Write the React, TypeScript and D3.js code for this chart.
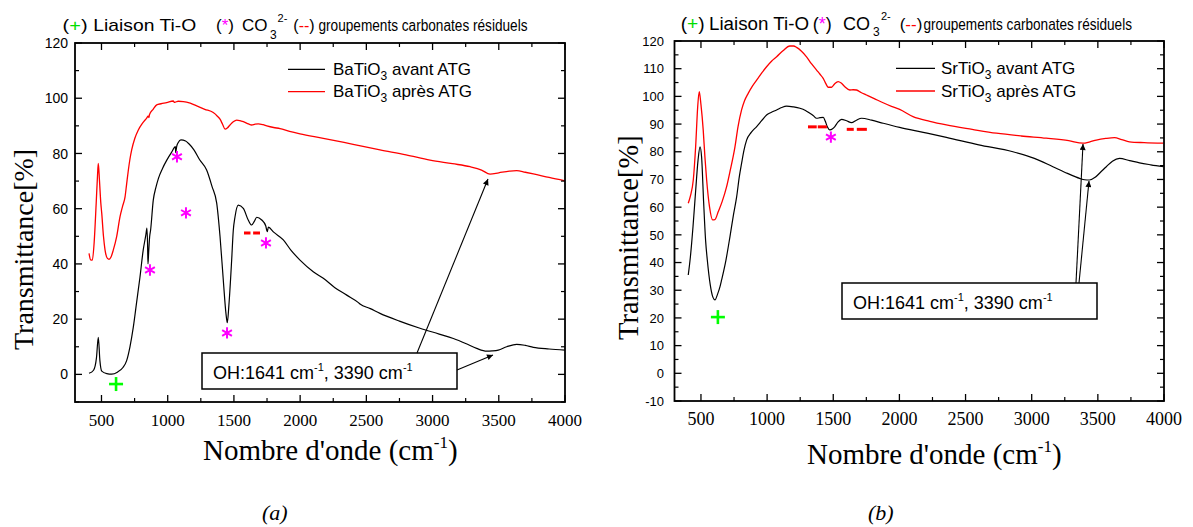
import React from "react";
import * as d3 from "d3";

// ---------------- DATA ----------------
// (a) BaTiO3 spectra: [wavenumber cm-1, transmittance %]
const baTiO3Avant: [number, number][] = [
  [406, 0.4], [440, 1.5], [462, 6], [476, 13.4], [488, 5], [502, 1.2], [540, 0.3], [577, 0.1],
  [620, 0.8], [662, 2.5], [690, 5], [715, 10], [740, 17], [765, 26], [790, 35], [815, 45],
  [835, 50.5], [843, 53], [848, 47], [851, 40], [856, 44], [864, 50], [871, 52.3], [891, 63.1],
  [910, 67.5], [930, 71], [960, 74.5], [992, 77.5], [1030, 80.5], [1058, 82.5], [1060, 80.3],
  [1068, 82.6], [1080, 84], [1100, 84.9], [1135, 84.5], [1160, 83.5], [1198, 81.3], [1240, 77.8],
  [1294, 74], [1335, 68], [1370, 62], [1395, 50], [1420, 34], [1440, 22], [1450, 18.7],
  [1462, 25], [1483, 41.4], [1495, 52], [1508, 57], [1533, 61.3], [1571, 60.1], [1608, 55.9],
  [1634, 54.1], [1655, 55.5], [1672, 56.9], [1710, 55.9], [1740, 53.8], [1748, 52.2], [1752, 51.7],
  [1760, 53.3], [1800, 51.5], [1873, 48.7], [1930, 45], [1999, 41.4], [2099, 37.2], [2175, 34.8],
  [2260, 31.5], [2352, 28.7], [2440, 26], [2452, 25.5], [2530, 23.8], [2603, 22.1], [2750, 19.3],
  [2905, 16.7], [3050, 14.6], [3157, 13], [3250, 11.2], [3333, 9.4], [3409, 8.4], [3450, 8.5],
  [3496, 8.8], [3560, 10], [3635, 10.9], [3700, 10.5], [3761, 9.8], [3880, 9.2], [4000, 8.8],
];
const baTiO3Apres: [number, number][] = [
  [406, 43.8], [418, 41.5], [431, 41.4], [445, 48], [460, 62], [470, 72], [476, 76.4], [485, 70],
  [495, 62], [502, 58.3], [515, 50], [527, 45], [545, 42], [557, 41.7], [572, 42.5], [589, 45],
  [615, 50], [640, 57.1], [660, 61], [678, 64.3], [690, 69], [703, 74], [715, 78], [728, 81.3],
  [752, 85.5], [778, 88.5], [810, 91], [841, 92.8], [852, 93.5], [858, 93], [862, 94], [890, 96],
  [917, 97.6], [950, 98], [992, 98.4], [1042, 99], [1050, 98.5], [1058, 98.6], [1080, 98.9],
  [1118, 98.8], [1170, 98.2], [1219, 97.2], [1280, 96], [1344, 94.8], [1375, 93.5], [1395, 92.4],
  [1415, 90.5], [1433, 88.8], [1450, 89.2], [1470, 90.3], [1495, 91.5], [1521, 92.1], [1545, 91.9],
  [1571, 91.5], [1610, 90.7], [1634, 90.3], [1660, 90.6], [1684, 90.7], [1720, 90.4], [1748, 90],
  [1800, 89.4], [1848, 89], [1920, 88], [1999, 87.1], [2175, 85.5], [2400, 83.3], [2603, 81.3],
  [2800, 79.5], [2981, 77.6], [3150, 76.3], [3283, 75.2], [3370, 74], [3434, 72.5], [3500, 73],
  [3580, 73.6], [3635, 73.8], [3700, 73.2], [3761, 72.6], [3880, 71.3], [4000, 70.1],
];

// (b) SrTiO3 spectra
const srTiO3Avant: [number, number][] = [
  [404, 35.5], [420, 42], [440, 53], [460, 66], [478, 77], [493, 81.8], [505, 78], [520, 62],
  [535, 48], [548, 40.9], [570, 32], [590, 27.5], [606, 26.5], [625, 28.5], [645, 31.5],
  [656, 33.7], [689, 40.9], [719, 49.3], [745, 57], [770, 63.8], [790, 71], [807, 75.8],
  [825, 80.5], [845, 84.2], [880, 87], [921, 89.1], [960, 91.3], [996, 93.3], [1030, 94.2],
  [1072, 95.1], [1110, 96], [1147, 96.5], [1200, 96.2], [1248, 95.7], [1290, 94.9], [1323, 93.9],
  [1350, 93], [1374, 92.1], [1400, 92.3], [1424, 92.4], [1440, 91], [1455, 89], [1474, 87.9],
  [1495, 88.3], [1512, 89.1], [1535, 90.7], [1563, 91.7], [1600, 91.2], [1638, 90.5], [1675, 91.4],
  [1714, 92.1], [1790, 91.4], [1877, 90.3], [2002, 88.8], [2180, 87], [2355, 85.2], [2600, 82.5],
  [2858, 80], [3020, 77.6], [3160, 74.6], [3270, 72.2], [3362, 70.4], [3400, 69.9], [3437, 69.8],
  [3480, 70.8], [3520, 72.6], [3564, 74.6], [3610, 76.6], [3664, 77.6], [3740, 76.8], [3815, 76],
  [3900, 75.3], [3996, 74.6],
];
const srTiO3Apres: [number, number][] = [
  [404, 61.4], [420, 64], [442, 69.8], [460, 82], [475, 96], [487, 101.7], [500, 97], [517, 87.9],
  [530, 78], [543, 69.8], [565, 60], [588, 55.4], [605, 55.5], [631, 58.4], [660, 62], [694, 67.4],
  [720, 73], [757, 81.8], [780, 89], [807, 95.1], [830, 98.5], [857, 101.1], [890, 103.8],
  [921, 105.9], [960, 108.5], [996, 110.7], [1035, 112.8], [1072, 114.3], [1120, 116.5],
  [1172, 118.2], [1200, 118.2], [1223, 117.7], [1260, 116.3], [1298, 114.3], [1335, 111.8],
  [1374, 109.5], [1400, 108], [1424, 106.5], [1445, 104.5], [1461, 103.3], [1487, 103.3],
  [1510, 104.5], [1537, 105.3], [1560, 104.8], [1587, 103.5], [1625, 102.3], [1650, 102.4],
  [1676, 102.3], [1710, 101.4], [1751, 100.5], [1810, 99.2], [1877, 97.7], [1940, 96.4],
  [2002, 95.3], [2103, 92.7], [2230, 91], [2355, 89.7], [2550, 88.1], [2733, 86.7], [2920, 85.7],
  [3110, 84.9], [3280, 84], [3387, 83.1], [3440, 83.6], [3488, 84.2], [3560, 84.8], [3626, 85.1],
  [3680, 84.4], [3739, 83.6], [3850, 83.3], [3996, 83.1],
];

// Annotation marks (data coordinates)
const baPlus: [number, number][] = [[610, -3.5]];
const baStars: [number, number][] = [[1070, 78.8], [1138, 58.5], [866, 37.8], [1742, 47.6], [1448, 15]];
const baDashes: [number, number, number][] = [[1576, 1625, 51.2], [1645, 1697, 51.2]];
const srPlus: [number, number][] = [[628, 20.3]];
const srStars: [number, number][] = [[1482, 85.3]];
const srDashes: [number, number, number][] = [
  [1309, 1375, 89], [1383, 1452, 89], [1602, 1655, 88.1], [1678, 1754, 88.1],
];

// Tick values
const xMajorTicks = [500, 1000, 1500, 2000, 2500, 3000, 3500, 4000];
const xMinorTicks = [750, 1250, 1750, 2250, 2750, 3250, 3750];
const baYMajor = [0, 20, 40, 60, 80, 100, 120];
const baYMinor = [-10, 10, 30, 50, 70, 90, 110];
const srYMajor = [-10, 0, 10, 20, 30, 40, 50, 60, 70, 80, 90, 100, 110, 120];
const srYMinor = [-5, 5, 15, 25, 35, 45, 55, 65, 75, 85, 95, 105, 115];

const legendA = ["BaTiO", "avant ATG", "après ATG"];
const legendB = ["SrTiO", "avant ATG", "après ATG"];

// ---------------- RENDER ----------------
const SANS = "'Liberation Sans', Arial, Helvetica, sans-serif";
const NARROW = "'Liberation Sans Narrow', 'Arial Narrow', 'Liberation Sans', sans-serif";
const SERIF = "'Liberation Serif', 'Times New Roman', Times, serif";

type PanelProps = {
  x0: number; x1: number; yTop: number; yBot: number;
  yMajor: number[]; yMinor: number[];
  black: [number, number][]; red: [number, number][];
  plus: [number, number][]; stars: [number, number][]; dashes: [number, number, number][];
  yTickFont: number; yTickRight: number; xTickFont: number; xTickBaseline: number;
};

function Panel(p: PanelProps) {
  const x = d3.scaleLinear().domain([300, 4000]).range([p.x0, p.x1]);
  const y = d3.scaleLinear().domain([-10, 120]).range([p.yBot, p.yTop]);
  const line = d3.line<[number, number]>().x((d) => x(d[0])).y((d) => y(d[1])).curve(d3.curveMonotoneX);
  const star = d3.symbol(d3.symbolAsterisk, 90)();
  const maj = 7, min = 4;
  return (
    <g>
      <path d={line(p.red) || ""} fill="none" stroke="#ff0000" strokeWidth={1.3} />
      <path d={line(p.black) || ""} fill="none" stroke="#000" strokeWidth={1.2} />
      <rect x={p.x0} y={p.yTop} width={p.x1 - p.x0} height={p.yBot - p.yTop} fill="none" stroke="#000" strokeWidth={1.8} />
      {xMajorTicks.map((t) => (
        <g key={"xM" + t}>
          <line x1={x(t)} x2={x(t)} y1={p.yBot} y2={p.yBot - maj} stroke="#000" strokeWidth={1.3} />
          <line x1={x(t)} x2={x(t)} y1={p.yTop} y2={p.yTop + maj} stroke="#000" strokeWidth={1.3} />
          <text x={x(t)} y={p.xTickBaseline} textAnchor="middle" fontFamily={SERIF} fontSize={p.xTickFont}>{t}</text>
        </g>
      ))}
      {xMinorTicks.map((t) => (
        <g key={"xm" + t}>
          <line x1={x(t)} x2={x(t)} y1={p.yBot} y2={p.yBot - min} stroke="#000" strokeWidth={1.2} />
          <line x1={x(t)} x2={x(t)} y1={p.yTop} y2={p.yTop + min} stroke="#000" strokeWidth={1.2} />
        </g>
      ))}
      {p.yMajor.map((t) => (
        <g key={"yM" + t}>
          <line x1={p.x0} x2={p.x0 + maj} y1={y(t)} y2={y(t)} stroke="#000" strokeWidth={1.3} />
          <line x1={p.x1} x2={p.x1 - maj} y1={y(t)} y2={y(t)} stroke="#000" strokeWidth={1.3} />
          <text x={p.yTickRight} y={y(t) + p.yTickFont * 0.36} textAnchor="end" fontFamily={SANS} fontSize={p.yTickFont}>{t}</text>
        </g>
      ))}
      {p.yMinor.map((t) => (
        <g key={"ym" + t}>
          <line x1={p.x0} x2={p.x0 + min} y1={y(t)} y2={y(t)} stroke="#000" strokeWidth={1.2} />
          <line x1={p.x1} x2={p.x1 - min} y1={y(t)} y2={y(t)} stroke="#000" strokeWidth={1.2} />
        </g>
      ))}
      {p.plus.map((d, i) => (
        <g key={"p" + i} stroke="#00ff00" strokeWidth={2.6}>
          <line x1={x(d[0]) - 7} x2={x(d[0]) + 7} y1={y(d[1])} y2={y(d[1])} />
          <line x1={x(d[0])} x2={x(d[0])} y1={y(d[1]) - 7} y2={y(d[1]) + 7} />
        </g>
      ))}
      {p.stars.map((d, i) => (
        <path key={"s" + i} d={star || ""} transform={`translate(${x(d[0])},${y(d[1])})`} fill="none" stroke="#ff00ff" strokeWidth={2} />
      ))}
      {p.dashes.map((d, i) => (
        <line key={"d" + i} x1={x(d[0])} x2={x(d[1])} y1={y(d[2])} y2={y(d[2])} stroke="#ff0000" strokeWidth={3} />
      ))}
    </g>
  );
}

function Legend({ x0, x1, tx, y1, y2, b1, b2, labels }: { x0: number; x1: number; tx: number; y1: number; y2: number; b1: number; b2: number; labels: string[] }) {
  const row = (ly: number, by: number, color: string, suffix: string) => (
    <g>
      <line x1={x0} x2={x1} y1={ly} y2={ly} stroke={color} strokeWidth={1.3} />
      <text x={tx} y={by} fontFamily={SANS} fontSize={17}>
        {labels[0]}
        <tspan fontSize={12} dy={5}>3</tspan>
        <tspan dy={-5}>{" " + suffix}</tspan>
      </text>
    </g>
  );
  return (
    <g>
      {row(y1, b1, "#000", labels[1])}
      {row(y2, b2, "#ff0000", labels[2])}
    </g>
  );
}

function Header({ pos, base, size, narrowSize, subDy, supDy }: { pos: number[]; base: number; size: number; narrowSize: number; subDy: number; supDy: number }) {
  // pos: [(+) start, (+) width, Liaison start, Liaison width, (*), CO, sub3, sup, (--), groupements start, groupements width]
  return (
    <g fontFamily={SANS} fontSize={size}>
      <text x={pos[0]} y={base} textLength={pos[1]} lengthAdjust="spacingAndGlyphs">(<tspan fill="#00dd00">+</tspan>)</text>
      <text x={pos[2]} y={base} textLength={pos[3]} lengthAdjust="spacingAndGlyphs">Liaison Ti-O</text>
      <text x={pos[4]} y={base}>(<tspan fill="#ff00ff">*</tspan>)</text>
      <text x={pos[5]} y={base}>CO</text>
      <text x={pos[6]} y={base + subDy} fontSize={12}>3</text>
      <text x={pos[7]} y={base - supDy} fontSize={11}>2-</text>
      <text x={pos[8]} y={base} fontFamily={NARROW} fontSize={narrowSize}>(<tspan fill="#ff0000">--</tspan>)</text>
      <text x={pos[9]} y={base} fontFamily={NARROW} fontSize={narrowSize} textLength={pos[10]} lengthAdjust="spacingAndGlyphs">groupements carbonates résiduels</text>
    </g>
  );
}

function OHBox({ x, y, w, h, tx, ty }: { x: number; y: number; w: number; h: number; tx: number; ty: number }) {
  return (
    <g>
      <rect x={x} y={y} width={w} height={h} fill="#fff" stroke="#000" strokeWidth={1.5} />
      <text x={tx} y={ty} fontFamily={SANS} fontSize={18}>
        OH:1641 cm<tspan fontSize={11} dy={-8}>-1</tspan>
        <tspan dy={8}>, 3390 cm</tspan>
        <tspan fontSize={11} dy={-8}>-1</tspan>
      </text>
    </g>
  );
}

export default function App() {
  return (
    <svg width={1193} height={527} style={{ position: "absolute", left: 0, top: 0, background: "#fff" }}>
      <defs>
        <marker id="arr" viewBox="0 0 10 10" refX="10" refY="5" markerWidth="9" markerHeight="6" markerUnits="userSpaceOnUse" orient="auto">
          <path d="M0,0 L10,5 L0,10 z" fill="#000" />
        </marker>
      </defs>
      <rect x={0} y={0} width={1193} height={527} fill="#fff" />

      {/* ---- Panel (a) ---- */}
      <Header pos={[62.6, 25, 93.2, 103, 216, 242, 270, 277.6, 293.3, 318.5, 209]} base={31} size={17} narrowSize={16} subDy={8} supDy={9} />
      <Panel x0={75} x1={565} yTop={43} yBot={402} yMajor={baYMajor} yMinor={baYMinor}
        black={baTiO3Avant} red={baTiO3Apres} plus={baPlus} stars={baStars} dashes={baDashes}
        yTickFont={14} yTickRight={68} xTickFont={17} xTickBaseline={426} />
      <Legend x0={288} x1={325} tx={333} y1={69.3} y2={91.7} b1={75} b2={97} labels={legendA} />
      <OHBox x={202} y={353} w={255} h={36} tx={213} ty={379} />
      <line x1={417} y1={353} x2={488} y2={179} stroke="#000" strokeWidth={1.1} markerEnd="url(#arr)" />
      <line x1={457} y1={370} x2={493} y2={355} stroke="#000" strokeWidth={1.1} markerEnd="url(#arr)" />
      <text transform="translate(33,350) rotate(-90)" fontFamily={SERIF} fontSize={28}>Transmittance[%]</text>
      <text x={203} y={460} fontFamily={SERIF} fontSize={29}>
        Nombre d'onde (cm<tspan fontSize={17} dy={-12}>-1</tspan><tspan dy={12}>)</tspan>
      </text>
      <text x={262} y={520} fontFamily={SERIF} fontSize={22} fontStyle="italic">(a)</text>

      {/* ---- Panel (b) ---- */}
      <Header pos={[680.7, 24, 709, 100, 812.8, 843, 873, 881, 899.7, 923.5, 208.5]} base={30} size={18} narrowSize={17} subDy={6} supDy={10} />
      <Panel x0={674.5} x1={1164} yTop={41} yBot={401} yMajor={srYMajor} yMinor={srYMinor}
        black={srTiO3Avant} red={srTiO3Apres} plus={srPlus} stars={srStars} dashes={srDashes}
        yTickFont={13} yTickRight={664} xTickFont={18} xTickBaseline={425} />
      <Legend x0={896} x1={935} tx={941} y1={68.3} y2={91} b1={74.3} b2={96.7} labels={legendB} />
      <OHBox x={842} y={283} w={255} h={36} tx={853} ty={309} />
      <line x1={1076} y1={283} x2={1083} y2={144} stroke="#000" strokeWidth={1.1} markerEnd="url(#arr)" />
      <line x1={1079} y1={283} x2={1089} y2={181} stroke="#000" strokeWidth={1.1} markerEnd="url(#arr)" />
      <text transform="translate(638,340) rotate(-90)" fontFamily={SERIF} fontSize={28.5}>Transmittance[%]</text>
      <text x={807} y={464} fontFamily={SERIF} fontSize={29}>
        Nombre d'onde (cm<tspan fontSize={17} dy={-12}>-1</tspan><tspan dy={12}>)</tspan>
      </text>
      <text x={868} y={520} fontFamily={SERIF} fontSize={22} fontStyle="italic">(b)</text>
    </svg>
  );
}
